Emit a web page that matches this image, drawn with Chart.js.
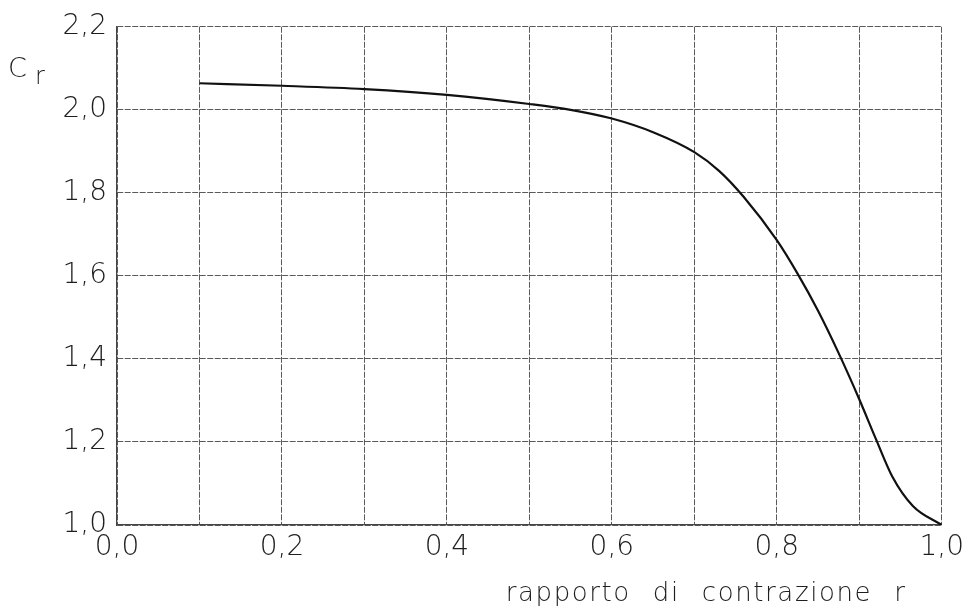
<!DOCTYPE html>
<html>
<head>
<meta charset="utf-8">
<script src="https://cdn.jsdelivr.net/npm/chart.js@4"></script>
<style>
  html, body { margin: 0; padding: 0; background: #fff; }
  #wrap { width: 970px; height: 612px; position: relative; }
</style>
</head>
<body>
<div id="wrap"><canvas id="c" width="970" height="612"></canvas></div>
<script>
// Data
const rValues  = [0.10, 0.20, 0.30, 0.40, 0.50, 0.55, 0.60, 0.65, 0.70, 0.73, 0.76, 0.80, 0.825, 0.85, 0.875, 0.90, 0.92, 0.94, 0.965, 1.00];
const crValues = [2.064, 2.058, 2.050, 2.036, 2.014, 2.000, 1.979, 1.946, 1.898, 1.853, 1.790, 1.686, 1.606, 1.516, 1.414, 1.303, 1.208, 1.117, 1.046, 1.000];
const xTickLabels = ['0,0', '', '0,2', '', '0,4', '', '0,6', '', '0,8', '', '1,0'];
const yTickLabels = ['1,0', '1,2', '1,4', '1,6', '1,8', '2,0', '2,2'];
const xAxisTitleWords = ['rapporto', 'di', 'contrazione', 'r'];
const yAxisTitleMain = 'C';
const yAxisTitleSub = 'r';

const FONT = '"DejaVu Sans", "Liberation Sans", sans-serif';
const INK = '#1e1e1e';
const GRID = '#5a5a5a';

const points = rValues.map((x, i) => ({ x: x, y: crValues[i] }));

const labelsPlugin = {
  id: 'labelsPlugin',
  afterDraw(chart) {
    const ctx = chart.ctx;
    const area = chart.chartArea;
    ctx.save();
    ctx.fillStyle = INK;
    ctx.textAlign = 'left';
    ctx.textBaseline = 'alphabetic';
    // Y-axis title "C_r"
    ctx.font = '200 27px ' + FONT;
    ctx.fillText(yAxisTitleMain, 8, area.top + 50);
    ctx.font = '200 24px ' + FONT;
    ctx.fillText(yAxisTitleSub, 35, area.top + 57);
    // X-axis title, bottom right
    ctx.font = '200 26px ' + FONT;
    const letterGap = 1.6;
    const wordGap = 22;
    let x = area.right - 436;
    const y = area.bottom + 76;
    xAxisTitleWords.forEach((word) => {
      for (const ch of word) {
        ctx.fillText(ch, x, y);
        x += ctx.measureText(ch).width + letterGap;
      }
      x += wordGap;
    });
    ctx.restore();
  }
};

new Chart(document.getElementById('c'), {
  type: 'scatter',
  data: {
    datasets: [{
      data: points,
      showLine: true,
      borderColor: '#111',
      borderWidth: 2.2,
      pointRadius: 0,
      cubicInterpolationMode: 'monotone',
      fill: false
    }]
  },
  options: {
    responsive: false,
    animation: false,
    events: [],
    layout: { padding: { left: 0, right: 24, top: 25, bottom: 0 } },
    plugins: { legend: { display: false }, tooltip: { enabled: false } },
    scales: {
      x: {
        type: 'linear',
        min: 0, max: 1,
        afterFit(scale) { scale.height = 87; },
        afterBuildTicks(scale) {
          scale.ticks = xTickLabels.map((_, i) => ({ value: i / 10 }));
        },
        ticks: {
          autoSkip: false,
          maxRotation: 0,
          padding: 6,
          color: INK,
          font: { family: FONT, size: 28, weight: 200 },
          callback: (v, i) => xTickLabels[i]
        },
        grid: { color: GRID, lineWidth: 1, drawTicks: false, tickLength: 0 },
        border: { color: '#444', width: 1.2, dash: [6, 1.5] }
      },
      y: {
        type: 'linear',
        min: 1, max: 2.2,
        afterFit(scale) { scale.width = 117; },
        afterBuildTicks(scale) {
          scale.ticks = yTickLabels.map((_, i) => ({ value: 1 + i * 0.2 }));
        },
        ticks: {
          autoSkip: false,
          padding: 10,
          color: INK,
          font: { family: FONT, size: 28, weight: 200 },
          callback: (v, i) => yTickLabels[i]
        },
        grid: { color: GRID, lineWidth: 1, drawTicks: false, tickLength: 0 },
        border: { color: '#444', width: 1.2, dash: [6, 1.5] }
      }
    }
  },
  plugins: [labelsPlugin]
});
</script>
</body>
</html>
